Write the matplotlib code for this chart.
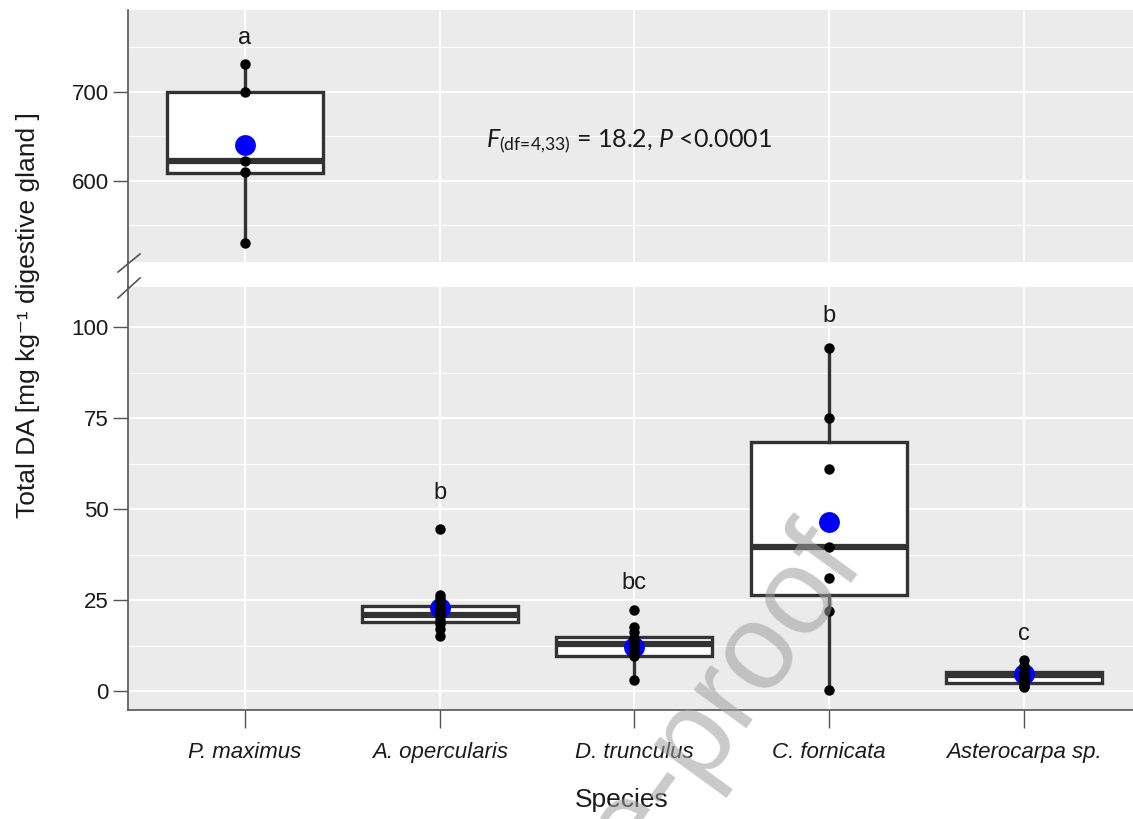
import matplotlib
matplotlib.use('Agg')
import matplotlib.pyplot as plt
from matplotlib.lines import Line2D
from matplotlib.ticker import MultipleLocator

plt.rcParams['font.family'] = ['Liberation Sans', 'DejaVu Sans']
plt.rcParams['mathtext.fontset'] = 'custom'
plt.rcParams['mathtext.rm'] = 'Lato'
plt.rcParams['mathtext.it'] = 'Lato:italic'

# data
species = ['P. maximus', 'A. opercularis', 'D. trunculus', 'C. fornicata', 'Asterocarpa sp.']
pts_pmax = [731, 700, 622, 610, 530]
pts_aoper = [44.5, 26.5, 25.5, 24.5, 23.5, 22.5, 21.5, 20.5, 19.5, 18.5, 17, 15]
pts_dtrun = [22.2, 17.6, 16.2, 14.6, 13.5, 12.5, 11.5, 10.5, 9.5, 3.0]
pts_cforn = [94.2, 75, 61, 39.6, 31, 22, 0.3]
pts_aster = [8.5, 7, 6, 5, 4.5, 4, 3.5, 3, 2.5, 2, 1.5, 1]
q1 = [609, 19.1, 9.7, 26.4, 2.3]
med = [622, 20.9, 12.8, 39.7, 4.3]
q3 = [700, 23.3, 14.8, 68.4, 5.2]
whislo = [530, 15, 3.0, 0.3, 1]
whishi = [731, 26.5, 17.6, 94.2, 8.5]
means = [640, 22.8, 12.1, 46.4, 4.8]
letters = ['a', 'b', 'bc', 'b', 'c']
letter_y = [761, 54.4, 29.7, 103, 15.7]

points = [pts_pmax, pts_aoper, pts_dtrun, pts_cforn, pts_aster]

W, H = 1133, 819
fig = plt.figure(figsize=(W / 100, H / 100), dpi=100)
fig.patch.set_facecolor('white')

def fx(px):
    return px / W

def fy(py):
    return 1 - py / H

ax_top = fig.add_axes([fx(128), fy(262), fx(1133) - fx(128), fy(10) - fy(262)])
ax_bot = fig.add_axes([fx(128), fy(710), fx(1133) - fx(128), fy(287) - fy(710)])

edge = '#333333'
boxkw = dict(widths=0.8, showfliers=False, showcaps=False, patch_artist=True, manage_ticks=False,
             boxprops=dict(facecolor='white', edgecolor=edge, lw=2.4),
             medianprops=dict(color=edge, lw=4.5, solid_capstyle='butt'),
             whiskerprops=dict(color=edge, lw=2.4))

stats = []
for i in range(5):
    stats.append(dict(q1=q1[i], med=med[i], q3=q3[i], whislo=whislo[i], whishi=whishi[i]))

ax_top.bxp(stats[:1], positions=[1], **boxkw)
ax_bot.bxp(stats[1:], positions=[2, 3, 4, 5], **boxkw)

for i, vals in enumerate(points):
    ax = ax_top if i == 0 else ax_bot
    ax.plot([i + 1], [means[i]], 'o', color='#0000FF', ms=15, mec='none', zorder=4)
    ax.plot([i + 1] * len(vals), vals, 'o', color='black', ms=7.5, mec='none', zorder=5)
    ax.text(i + 1, letter_y[i], letters[i], ha='center', va='center', fontsize=17, color='#1a1a1a')

for ax in (ax_top, ax_bot):
    ax.set_facecolor('#EBEBEB')
    ax.set_xlim(0.4, 5.56)
    ax.set_axisbelow(True)
    ax.set_xticks(range(1, 6))
    ax.grid(which='major', color='white', lw=1.4)
    ax.grid(which='minor', axis='y', color='white', lw=0.8)
    for s in ('top', 'right'):
        ax.spines[s].set_visible(False)
    ax.spines['left'].set_color('#555555')
    ax.spines['left'].set_linewidth(1.2)
    ax.tick_params(axis='y', which='major', length=11, width=1, color='#555555',
                   labelsize=16, pad=3, labelcolor='#1a1a1a')
    ax.tick_params(axis='y', which='minor', length=0)

ax_top.set_ylim(509, 792)
ax_top.yaxis.set_major_locator(MultipleLocator(100))
ax_top.yaxis.set_minor_locator(MultipleLocator(50))
ax_top.spines['bottom'].set_visible(False)
ax_top.tick_params(axis='x', length=0, labelbottom=False)

ax_bot.set_ylim(-5.2, 111)
ax_bot.yaxis.set_major_locator(MultipleLocator(25))
ax_bot.yaxis.set_minor_locator(MultipleLocator(12.5))
ax_bot.spines['bottom'].set_color('#555555')
ax_bot.spines['bottom'].set_linewidth(1.2)
ax_bot.set_xticklabels(species, style='italic', fontsize=16)
ax_bot.tick_params(axis='x', length=13, width=1, color='#555555', pad=10, labelcolor='#1a1a1a')

ax_top.text(2.24, 644, r'$\mathit{F}_{\text{(df=4,33)}}$' + ' = 18.2, ' + r'$\mathit{P}$' + ' <0.0001',
            fontsize=18, family=['Lato', 'DejaVu Sans'], va='center', ha='left', color='#1a1a1a')

# axis titles
fig.text(fx(28), fy(315), 'Total DA [mg kg\u207b\u00b9 digestive gland ]', rotation=90,
         ha='center', va='center', fontsize=19, color='#1a1a1a')
fig.text(fx(622), fy(800), 'Species', ha='center', va='center', fontsize=19, color='#1a1a1a')

# left spine through the gap and break marks
fig.add_artist(Line2D([fx(128), fx(128)], [fy(262), fy(287)], color='#555555', lw=1.2))
for y0, y1 in ((272, 254), (298, 278)):
    fig.add_artist(Line2D([fx(118), fx(140)], [fy(y0), fy(y1)], color='#555555', lw=1.2))

# watermark
fig.text(fx(840), fy(545), 'Journal Pre-proof', rotation=54, rotation_mode='anchor',
         ha='right', va='center', fontsize=88, color=(0.62, 0.62, 0.62), alpha=0.55,
         zorder=10)

fig.savefig('out.png', dpi=100)
